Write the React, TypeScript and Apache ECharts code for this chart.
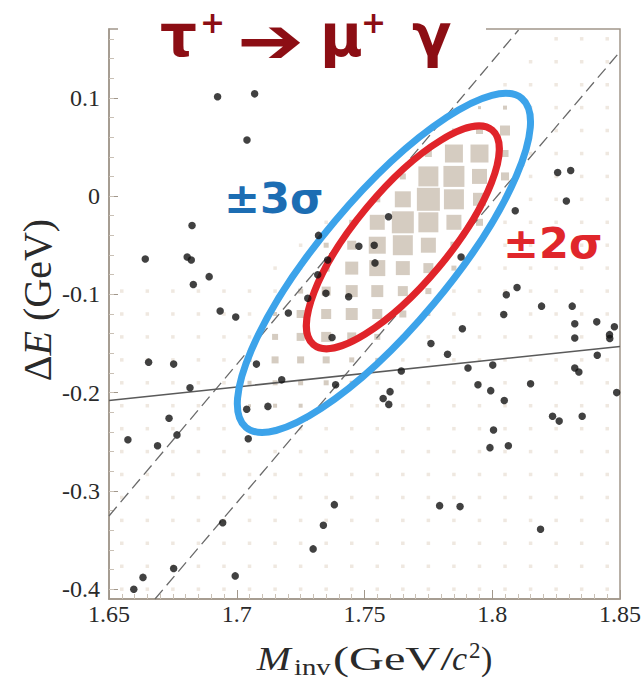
import { useEffect, useRef } from 'react';
import * as echarts from 'echarts';

// ---------- axes ----------
const X_MIN = 1.65;
const X_MAX = 1.85;
const Y_MIN = -0.41;
const Y_MAX = 0.17;
const yMajorTicks = [-0.4, -0.3, -0.2, -0.1, 0, 0.1];
const yMinorTicks = [
  -0.4, -0.38, -0.36, -0.34, -0.32, -0.3, -0.28, -0.26, -0.24, -0.22, -0.2, -0.18, -0.16, -0.14,
  -0.12, -0.1, -0.08, -0.06, -0.04, -0.02, 0, 0.02, 0.04, 0.06, 0.08, 0.1, 0.12, 0.14, 0.16,
];

// ---------- histogram bins (signal MC) ----------
const binCentersX = [
  1.655, 1.665, 1.675, 1.685, 1.695, 1.705, 1.715, 1.725, 1.735, 1.745,
  1.755, 1.765, 1.775, 1.785, 1.795, 1.805, 1.815, 1.825, 1.835, 1.845,
];
const binCentersY = [
  -0.4, -0.3767, -0.3533, -0.33, -0.3067, -0.2833, -0.26, -0.2367, -0.2133, -0.19,
  -0.1667, -0.1433, -0.12, -0.0967, -0.0733, -0.05, -0.0267, -0.0033, 0.02, 0.0433,
  0.0667, 0.09, 0.1133, 0.1367, 0.16,
];
// first x bin holding a faint (low-count) cell, per y bin
const faintRowStart = [
  0, 0, 0, 0, 0, 0, 0, 0, 0, 0, 0, 0, 0, 0,
  6, 7, 8, 9, 10, 12, 13, 14, 15, 16, 17,
];
// [x bin, y bin, box count]
const signalBoxes: [number, number, number][] = [
  [14, 21, 3], [15, 21, 4],
  [13, 20, 4], [14, 20, 7], [15, 20, 10], [16, 20, 3],
  [12, 19, 7], [13, 19, 18], [14, 19, 18], [15, 19, 7],
  [11, 18, 6], [12, 18, 20], [13, 18, 21], [14, 18, 15], [15, 18, 8],
  [10, 17, 6], [11, 17, 16], [12, 17, 23], [13, 17, 20], [14, 17, 13], [15, 17, 5],
  [9, 16, 5], [10, 16, 15], [11, 16, 22], [12, 16, 20], [13, 16, 15], [14, 16, 7],
  [8, 15, 5], [9, 15, 9], [10, 15, 17], [11, 15, 20], [12, 15, 15], [13, 15, 7],
  [8, 14, 7], [9, 14, 13], [10, 14, 16], [11, 14, 14], [12, 14, 10], [13, 14, 5],
  [7, 13, 5], [8, 13, 9], [9, 13, 12], [10, 13, 12], [11, 13, 10], [12, 13, 6],
  [6, 12, 4], [7, 12, 8], [8, 12, 10], [9, 12, 12], [10, 12, 10], [11, 12, 7], [12, 12, 4],
  [6, 11, 6], [7, 11, 8], [8, 11, 10], [9, 11, 9], [10, 11, 6], [11, 11, 4],
  [5, 10, 4], [6, 10, 7], [7, 10, 7], [8, 10, 7], [9, 10, 5], [10, 10, 4],
  [5, 9, 4], [6, 9, 5], [7, 9, 5], [8, 9, 5], [9, 9, 4],
  [5, 8, 3], [6, 8, 4], [7, 8, 4], [8, 8, 3],
];

// ---------- data events ----------
const events: [number, number][] = [
  [1.6925, 0.101], [1.707, 0.104], [1.704, 0.057], [1.8256, 0.024], [1.8307, 0.026],
  [1.829, -0.005], [1.809, -0.015], [1.7594, -0.021], [1.6825, -0.03], [1.6642, -0.064],
  [1.6806, -0.062], [1.6822, -0.065], [1.6892, -0.082], [1.683, -0.09], [1.732, -0.04],
  [1.7478, -0.051], [1.7538, -0.05], [1.7356, -0.065], [1.7541, -0.068], [1.7317, -0.08],
  [1.7349, -0.099], [1.7278, -0.104], [1.7438, -0.1025], [1.7202, -0.119], [1.6935, -0.117],
  [1.6996, -0.123], [1.7878, -0.062], [1.8097, -0.093], [1.8055, -0.1005], [1.8193, -0.112],
  [1.8313, -0.112], [1.8045, -0.1205], [1.8323, -0.13], [1.8409, -0.128], [1.8478, -0.133],
  [1.8459, -0.141], [1.846, -0.145], [1.7883, -0.135], [1.8323, -0.1445], [1.7373, -0.144],
  [1.776, -0.15], [1.7825, -0.161], [1.8411, -0.162], [1.7905, -0.175], [1.8002, -0.172],
  [1.8323, -0.175], [1.8339, -0.179], [1.7944, -0.192], [1.7994, -0.198], [1.815, -0.191],
  [1.8047, -0.208], [1.8487, -0.2], [1.8236, -0.224], [1.8262, -0.229], [1.8352, -0.224],
  [1.8005, -0.238], [1.7991, -0.256], [1.8063, -0.254], [1.7644, -0.178], [1.7573, -0.206],
  [1.76, -0.199], [1.7595, -0.212], [1.7387, -0.192], [1.7077, -0.171], [1.7176, -0.187],
  [1.7122, -0.214], [1.7039, -0.217], [1.7045, -0.247], [1.6655, -0.169], [1.6753, -0.171],
  [1.6817, -0.195], [1.6574, -0.248], [1.669, -0.254], [1.6735, -0.226], [1.6766, -0.243],
  [1.6945, -0.3325], [1.7382, -0.314], [1.7339, -0.335], [1.7299, -0.359], [1.7794, -0.315],
  [1.7874, -0.316], [1.8189, -0.339], [1.6994, -0.3865], [1.6753, -0.379], [1.6633, -0.388],
  [1.6597, -0.4],
];

// ---------- lines ----------
const solidLine: [number, number][] = [[1.65, -0.208], [1.85, -0.153]];
const dashedLeft: [number, number][] = [[1.65, -0.3255], [1.8103, 0.169]];
const dashedRight: [number, number][] = [[1.668, -0.41], [1.85, 0.147]];

// ---------- ellipses: [centre x, centre y, major-axis end x, major-axis end y, minor/major] ----------
const ellipse3Sigma = [1.7576, -0.068, 1.8116, 0.0993, 0.3];
const ellipse2Sigma = [1.765, -0.042, 1.8, 0.067, 0.335];

const TITLE_COLOR = '#8c0e14';
const AXIS_COLOR = '#a1978b';
const TEXT_COLOR = '#2a2a2a';
const SERIF = '"Liberation Serif", "Times New Roman", serif';
const SANS = '"DejaVu Sans", sans-serif';

function txt(text: string, x: number, y: number, opts: any = {}) {
  const { scaleX = 1, rotation = 0, align = 'left', ...style } = opts;
  return {
    type: 'text',
    x,
    y,
    scaleX,
    rotation,
    z: 101,
    silent: true,
    style: {
      text,
      align,
      textAlign: align,
      verticalAlign: 'middle',
      textVerticalAlign: 'middle',
      ...style,
    },
  };
}

function ellipseSeries(values: number[], color: string) {
  return {
    type: 'custom',
    coordinateSystem: 'cartesian2d',
    silent: true,
    z: 4,
    data: [values],
    encode: { x: [0, 2], y: [1, 3] },
    renderItem: (_params: any, api: any) => {
      const c = api.coord([api.value(0), api.value(1)]);
      const e = api.coord([api.value(2), api.value(3)]);
      const dx = e[0] - c[0];
      const dy = e[1] - c[1];
      const a = Math.hypot(dx, dy);
      const b = a * api.value(4);
      return {
        type: 'ellipse',
        x: c[0],
        y: c[1],
        rotation: -Math.atan2(dy, dx),
        shape: { cx: 0, cy: 0, rx: a, ry: b },
        style: { fill: 'none', stroke: color, lineWidth: 7 },
      };
    },
  };
}

export default function App() {
  const ref = useRef<HTMLDivElement>(null);

  useEffect(() => {
    const chart = echarts.init(ref.current!, null, { renderer: 'svg' });

    const signalSet = new Set(signalBoxes.map(([i, j]) => i + ',' + j));
    const faintCells: [number, number][] = [];
    binCentersY.forEach((y, j) =>
      binCentersX.forEach((x, i) => {
        if (i >= faintRowStart[j] && !signalSet.has(i + ',' + j)) faintCells.push([x, y]);
      })
    );
    const boxData = signalBoxes.map(([i, j, n]) => [binCentersX[i], binCentersY[j], n]);

    const axisLine = { show: true, onZero: false, lineStyle: { color: AXIS_COLOR, width: 1.5 } };

    chart.setOption({
      animation: false,
      backgroundColor: '#ffffff',
      grid: {
        left: 109,
        top: 29,
        width: 517,
        height: 570,
        show: true,
        borderColor: AXIS_COLOR,
        borderWidth: 1.5,
        backgroundColor: 'transparent',
      },
      xAxis: {
        type: 'value',
        min: X_MIN,
        max: X_MAX,
        interval: 0.05,
        axisLine,
        axisTick: { show: true, inside: true, length: 9, lineStyle: { color: AXIS_COLOR } },
        minorTick: { show: true, splitNumber: 10, length: 5, lineStyle: { color: '#c9c0b5' } },
        splitLine: { show: false },
        minorSplitLine: { show: false },
        axisLabel: {
          fontFamily: SERIF,
          fontSize: 24,
          color: TEXT_COLOR,
          margin: 3,
          formatter: (v: number) => String(Number(v.toFixed(2))),
        },
      },
      yAxis: [
        {
          type: 'value',
          min: Y_MIN,
          max: Y_MAX,
          axisLine,
          axisTick: {
            show: true,
            inside: true,
            length: 9,
            customValues: yMajorTicks,
            lineStyle: { color: AXIS_COLOR },
          },
          splitLine: { show: false },
          axisLabel: {
            customValues: yMajorTicks,
            showMinLabel: true,
            showMaxLabel: true,
            fontFamily: SERIF,
            fontSize: 24,
            color: TEXT_COLOR,
            margin: 9,
            formatter: (v: number) =>
              Math.abs(v * 10 - Math.round(v * 10)) > 1e-6 ? '' : String(Number(v.toFixed(1))),
          },
        },
        {
          type: 'value',
          min: Y_MIN,
          max: Y_MAX,
          position: 'left',
          axisLine: { show: false },
          axisTick: {
            show: true,
            inside: true,
            length: 5,
            customValues: yMinorTicks,
            lineStyle: { color: '#c9c0b5' },
          },
          axisLabel: { show: false },
          splitLine: { show: false },
        },
      ],
      series: [
        {
          type: 'scatter',
          silent: true,
          symbol: 'rect',
          symbolSize: 3.5,
          itemStyle: { color: '#ebe2d8' },
          data: faintCells,
          z: 1,
        },
        {
          type: 'scatter',
          silent: true,
          symbol: 'rect',
          symbolSize: (v: number[]) => v[2],
          itemStyle: { color: '#cabfb2' },
          data: boxData,
          z: 2,
        },
        {
          type: 'line',
          silent: true,
          showSymbol: false,
          symbol: 'none',
          data: dashedLeft,
          lineStyle: { color: '#6a6a6a', width: 1.3, type: [12, 6] },
          z: 3,
        },
        {
          type: 'line',
          silent: true,
          showSymbol: false,
          symbol: 'none',
          data: dashedRight,
          lineStyle: { color: '#6a6a6a', width: 1.3, type: [12, 6] },
          z: 3,
        },
        {
          type: 'line',
          silent: true,
          showSymbol: false,
          symbol: 'none',
          data: solidLine,
          lineStyle: { color: '#5a5a5a', width: 1.6 },
          z: 3,
        },
        ellipseSeries(ellipse3Sigma, '#3ca3ea'),
        ellipseSeries(ellipse2Sigma, '#e0242a'),
        {
          type: 'scatter',
          silent: true,
          symbol: 'circle',
          symbolSize: 7.5,
          itemStyle: { color: '#111111' },
          data: events,
          z: 5,
        },
      ],
      graphic: [
        { type: 'rect', z: 100, silent: true, shape: { x: 118, y: 0, width: 368, height: 34 }, style: { fill: '#ffffff' } },
        // title
        txt('τ', 160, 36, { font: `bold 58px ${SANS}`, fill: TITLE_COLOR }),
        txt('+', 200, 22, { font: `bold 30px ${SANS}`, fill: TITLE_COLOR }),
        txt('➔', 237, 41, { font: `bold 64px ${SANS}`, fill: TITLE_COLOR, scaleX: 1.25 }),
        txt('μ', 320, 36, { font: `bold 58px ${SANS}`, fill: TITLE_COLOR }),
        txt('+', 361, 22, { font: `bold 30px ${SANS}`, fill: TITLE_COLOR }),
        txt('γ', 412, 36, { font: `bold 58px ${SANS}`, fill: TITLE_COLOR }),
        // sigma labels
        txt('±3σ', 224, 198, { font: `bold 43px ${SANS}`, fill: '#1c6db3' }),
        txt('±2σ', 503, 243, { font: `bold 43px ${SANS}`, fill: '#e0262b' }),
        // x title
        txt('M', 256.7, 658.5, { font: `italic 34px ${SERIF}`, fill: TEXT_COLOR, scaleX: 1.2 }),
        txt('inv', 294, 667, { font: `23px ${SERIF}`, fill: TEXT_COLOR, scaleX: 1.25 }),
        txt('(GeV/', 333, 658.5, { font: `34px ${SERIF}`, fill: TEXT_COLOR, scaleX: 1.42 }),
        txt('c', 452, 658.5, { font: `italic 34px ${SERIF}`, fill: TEXT_COLOR }),
        txt('2', 469, 650, { font: `23px ${SERIF}`, fill: TEXT_COLOR }),
        txt(')', 481, 658.5, { font: `34px ${SERIF}`, fill: TEXT_COLOR }),
        // y title
        {
          type: 'text',
          x: 37,
          y: 300,
          rotation: Math.PI / 2,
          z: 101,
          silent: true,
          style: {
            text: '{n|Δ}{i|E}{n| (GeV)}',
            align: 'center',
            textAlign: 'center',
            verticalAlign: 'middle',
            textVerticalAlign: 'middle',
            font: `40px ${SERIF}`,
            fill: TEXT_COLOR,
            rich: {
              n: { fontFamily: SERIF, fontSize: 40, fill: TEXT_COLOR, color: TEXT_COLOR },
              i: { fontFamily: SERIF, fontSize: 40, fontStyle: 'italic', fill: TEXT_COLOR, color: TEXT_COLOR },
            },
          },
        },
      ],
    });

    return () => chart.dispose();
  }, []);

  return (
    <div
      ref={ref}
      style={{ position: 'fixed', left: 0, top: 0, width: 644, height: 680, background: '#ffffff' }}
    />
  );
}
